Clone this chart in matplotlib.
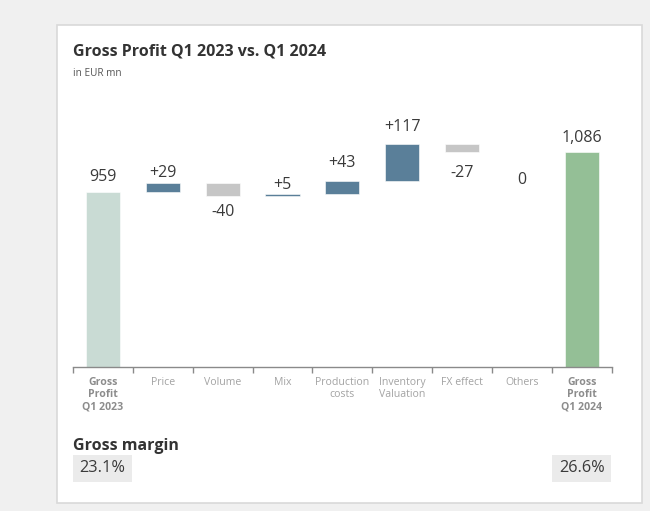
import matplotlib
matplotlib.use("Agg")
import matplotlib.pyplot as plt
from matplotlib.patches import Rectangle
import matplotlib.transforms as mtransforms

plt.rcParams['font.family'] = ['Open Sans', 'DejaVu Sans']

# ---- data -------------------------------------------------------------
categories = ["Gross\nProfit\nQ1 2023", "Price", "Volume", "Mix",
              "Production\ncosts", "Inventory\nValuation", "FX effect",
              "Others", "Gross\nProfit\nQ1 2024"]
start_value = 959
changes = [29, -40, 5, 43, 117, -27, 0]
end_value = 1086
change_labels = ["+29", "-40", "+5", "+43", "+117", "-27", "0"]
start_label = "959"
end_label = "1,086"
margin_labels = ["23.1%", "26.6%"]

# ---- style ------------------------------------------------------------
W, H = 650, 511
DPI = 100
BG = "#f0f0f0"
CARD_EDGE = "#d9d9d9"
START_COLOR = "#c9dbd4"
END_COLOR = "#94bf96"
UP_COLOR = "#5a7f99"
DOWN_COLOR = "#c6c6c6"
TEXT = "#3a3a3a"
CAT_TEXT = "#a3a3a3"
CAT_TEXT_BOLD = "#8c8c8c"
AXIS = "#8a8a8a"
BAR_W = 0.57
Y_FLOOR = 410
# gap (px) between each bar end and its value label
LABEL_GAP_PX = [11.7, 6.6, 8.3, 5.7, 14, 12.6, 12.7, 20, 10]


def fx(px):
    return px / W


def fy(py):
    return 1 - py / H


fig = plt.figure(figsize=(W / DPI, H / DPI), dpi=DPI, facecolor=BG)

# white card behind the chart
fig.patches.append(Rectangle((fx(57), fy(503)), fx(642) - fx(57), fy(25) - fy(503),
                             transform=fig.transFigure, facecolor="white",
                             edgecolor=CARD_EDGE, linewidth=1.2, zorder=-2))

fig.text(fx(73), fy(56), "Gross Profit Q1 2023 vs. Q1 2024", fontsize=11.5,
         fontweight="bold", color="#333333", va="baseline", ha="left")
fig.text(fx(73), fy(76.5), "in EUR mn", fontsize=7.2, color="#555555",
         va="baseline", ha="left")

# plot area
ax_left, ax_right = 73, 611.7
ax_bottom, ax_top = 367, 100
ax = fig.add_axes([fx(ax_left), fy(ax_bottom), fx(ax_right) - fx(ax_left),
                   fy(ax_top) - fy(ax_bottom)])
ax.set_zorder(2)
ax.set_facecolor("none")
ax.set_xlim(-0.5, len(categories) - 0.5)
ax.set_ylim(Y_FLOOR, 1250)

# start total
ax.bar(0, start_value - Y_FLOOR, bottom=Y_FLOOR, width=BAR_W, color=START_COLOR,
       edgecolor="white", linewidth=0.4, zorder=2)

label_specs = [(0, start_value, start_label, True)]
level = start_value
for i, ch in enumerate(changes, start=1):
    lo, hi = min(level, level + ch), max(level, level + ch)
    color = UP_COLOR if ch > 0 else DOWN_COLOR
    if ch != 0:
        ax.bar(i, hi - lo, bottom=lo, width=BAR_W, color=color,
               edgecolor="white", linewidth=0.4, zorder=2)
    if ch > 0:
        label_specs.append((i, hi, change_labels[i - 1], True))
    else:
        label_specs.append((i, lo, change_labels[i - 1], False))
    level += ch

last = len(categories) - 1
ax.bar(last, end_value - Y_FLOOR, bottom=Y_FLOOR, width=BAR_W, color=END_COLOR,
       edgecolor="white", linewidth=0.4, zorder=2)
label_specs.append((last, end_value, end_label, True))

for x, y, txt, above in label_specs:
    gap = LABEL_GAP_PX[x] * 72 / DPI
    if above:
        ax.annotate(txt, (x, y), xytext=(0, gap), textcoords="offset points",
                    ha="center", va="baseline", fontsize=11.5, color=TEXT)
    else:
        ax.annotate(txt, (x, y), xytext=(0, -gap), textcoords="offset points",
                    ha="center", va="top", fontsize=11.5, color=TEXT)

# axis with boundary ticks
for s in ["top", "left", "right"]:
    ax.spines[s].set_visible(False)
ax.spines["bottom"].set_color(AXIS)
ax.spines["bottom"].set_linewidth(1.0)
ax.spines["bottom"].set_zorder(3)
ax.set_yticks([])
ax.set_xticks([i - 0.5 for i in range(len(categories) + 1)])
ax.set_xticklabels([])
ax.tick_params(axis="x", direction="out", length=4.5, width=1.0, color=AXIS)

trans = mtransforms.blended_transform_factory(ax.transData, ax.transAxes)
for i, cat in enumerate(categories):
    bold = i in (0, last)
    ax.annotate(cat, (i, 0), xycoords=trans, xytext=(0, -7),
                textcoords="offset points", ha="center", va="top",
                fontsize=7.6, linespacing=1.2, multialignment="center",
                fontweight="bold" if bold else "normal",
                color=CAT_TEXT_BOLD if bold else CAT_TEXT)

# gross margin row
fig.text(fx(73), fy(450), "Gross margin", fontsize=11.5, fontweight="bold",
         color="#333333", va="baseline", ha="left")
for (x0, x1), txt in zip([(73.3, 132), (552.3, 611)], margin_labels):
    fig.patches.append(Rectangle((fx(x0), fy(481.7)), fx(x1) - fx(x0),
                                 fy(455) - fy(481.7), transform=fig.transFigure,
                                 facecolor="#ebebeb", edgecolor="none", zorder=-1))
    fig.text(fx((x0 + x1) / 2), fy(472.3), txt, fontsize=11.8, color=TEXT,
             ha="center", va="baseline")

fig.savefig("out.png", dpi=DPI, facecolor=BG)
